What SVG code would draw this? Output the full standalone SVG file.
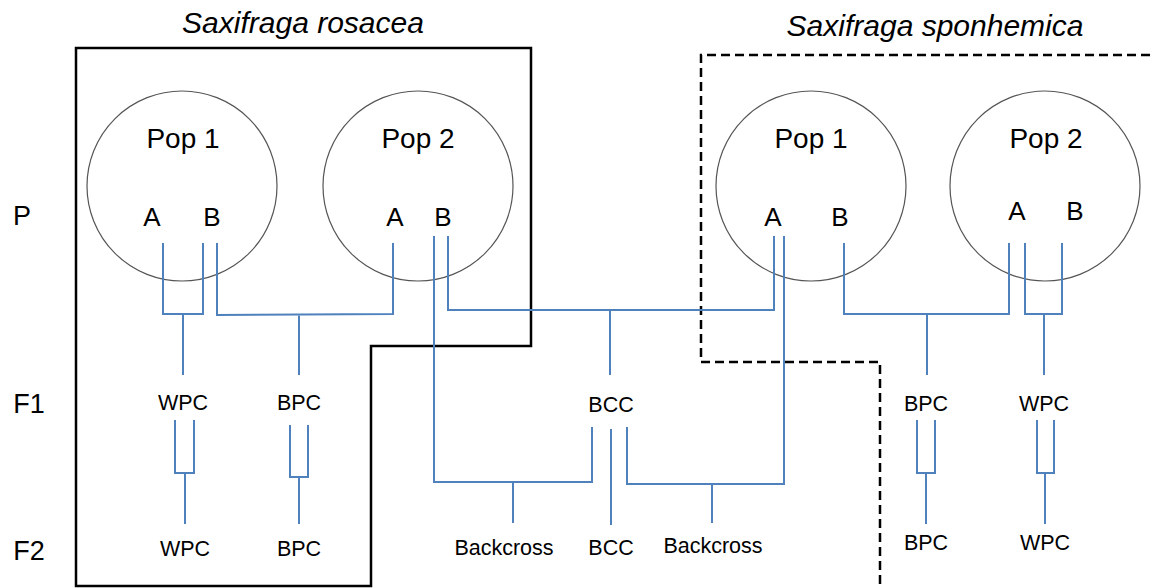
<svg xmlns="http://www.w3.org/2000/svg" width="1150" height="588" viewBox="0 0 1150 588">
<style>
.t{font-family:"Liberation Sans",Arial,sans-serif;fill:#000;text-anchor:middle}
.lab{font-size:21.5px}
.big{font-size:28px}
.row{font-size:27px}
.ab{font-size:26px}
.ttl{font-size:30px;font-style:italic}
.c{fill:none;stroke:#555;stroke-width:1.2}
.ln{fill:none;stroke:#4f81bd;stroke-width:2}
.box{fill:none;stroke:#000;stroke-width:2.5}
.dash{fill:none;stroke:#000;stroke-width:2.5;stroke-dasharray:9,5}
</style>
<rect width="1150" height="588" fill="#fff"/>
<g id="groups">
<path class="box" d="M76,586 L76,48 L531,48 L531,346 L371,346 L371,586 Z"/>
<path class="dash" d="M1150,55 L701,55 L701,362 L880,362 L880,588"/>
<text class="t ttl" x="303" y="33">Saxifraga rosacea</text>
<text class="t ttl" x="935" y="36">Saxifraga sponhemica</text>
</g>
<g id="rows">
<text class="t row" x="22" y="225">P</text>
<text class="t row" x="29" y="413">F1</text>
<text class="t row" x="29" y="560">F2</text>
</g>
<g id="rosacea-pop1">
<circle class="c" cx="182" cy="186" r="95"/>
<text class="t big" x="183" y="148">Pop 1</text>
<text class="t ab" x="152" y="226">A</text>
<text class="t ab" x="212" y="226">B</text>
</g>
<g id="rosacea-pop2">
<circle class="c" cx="418" cy="186" r="95"/>
<text class="t big" x="418" y="148">Pop 2</text>
<text class="t ab" x="395" y="226">A</text>
<text class="t ab" x="443" y="226">B</text>
</g>
<g id="sponhemica-pop1">
<circle class="c" cx="811" cy="186" r="95"/>
<text class="t big" x="811" y="148">Pop 1</text>
<text class="t ab" x="773" y="226">A</text>
<text class="t ab" x="840" y="226">B</text>
</g>
<g id="sponhemica-pop2">
<circle class="c" cx="1045" cy="186" r="95"/>
<text class="t big" x="1046" y="148">Pop 2</text>
<text class="t ab" x="1017" y="220">A</text>
<text class="t ab" x="1075" y="220">B</text>
</g>
<g id="f1-labels">
<text class="t lab" x="183" y="410">WPC</text>
<text class="t lab" x="299" y="410">BPC</text>
<text class="t lab" x="611" y="412">BCC</text>
<text class="t lab" x="926" y="411">BPC</text>
<text class="t lab" x="1044" y="411">WPC</text>
</g>
<g id="f2-labels">
<text class="t lab" x="185" y="556">WPC</text>
<text class="t lab" x="299" y="556">BPC</text>
<text class="t lab" x="504" y="555">Backcross</text>
<text class="t lab" x="611" y="555">BCC</text>
<text class="t lab" x="713" y="553">Backcross</text>
<text class="t lab" x="926" y="550">BPC</text>
<text class="t lab" x="1045" y="550">WPC</text>
</g>
<g id="connectors">
<path class="ln" d="M163,243 V314 H203 V243 M183,314 V375"/>
<path class="ln" d="M217,243 V315 L393,314 V243 M299,314 V375"/>
<path class="ln" d="M448,236 V310 H774 V236 M610,310 V375"/>
<path class="ln" d="M434,236 V482 H592 V427 M513,482 V523"/>
<path class="ln" d="M784,236 V484 H627 V427 M712,484 V523"/>
<path class="ln" d="M611,429 V525"/>
<path class="ln" d="M844,243 V314 H1009 V243 M927,314 V375"/>
<path class="ln" d="M1025,243 V314 H1062 V243 M1044,314 V375"/>
<path class="ln" d="M175,420 V473 H194 V420 M185,473 V524"/>
<path class="ln" d="M290,425 V477 H308 V425 M299,477 V524"/>
<path class="ln" d="M917,420 V473 H935 V420 M926,473 V524"/>
<path class="ln" d="M1037,420 V473 H1054 V420 M1045,473 V524"/>
</g>
</svg>
